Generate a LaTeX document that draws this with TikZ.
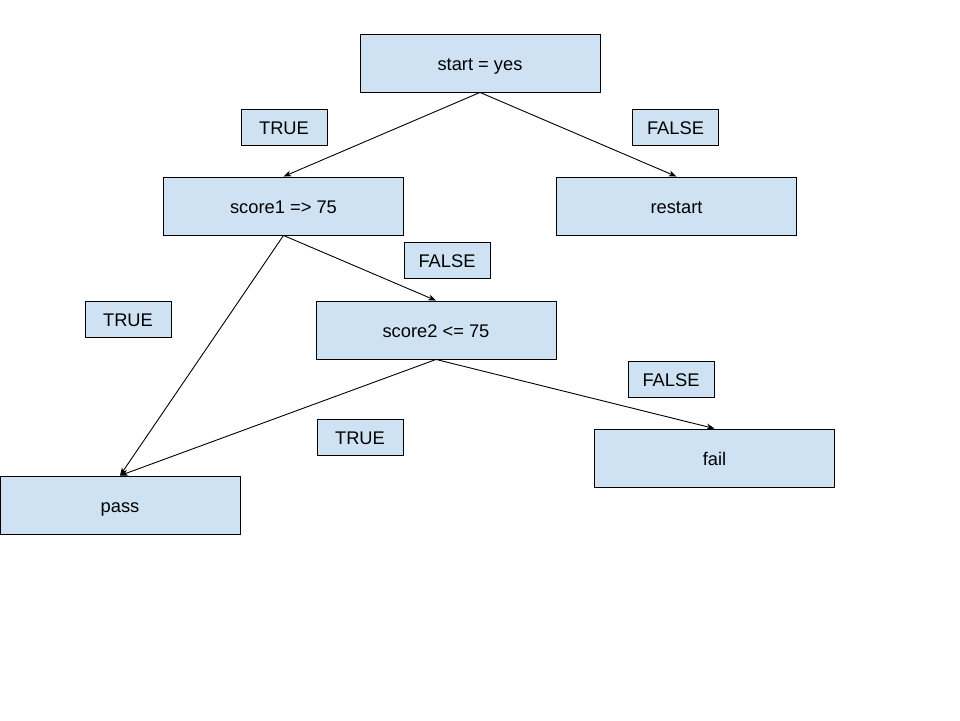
\documentclass[tikz,border=0pt]{standalone}
\usepackage{fontspec}
\setmainfont{Liberation Sans}
\usetikzlibrary{arrows.meta}
\definecolor{boxfill}{HTML}{CFE2F3}
\begin{document}
\begin{tikzpicture}[x=1pt,y=-1pt,
  base/.style={draw=black,fill=boxfill,line width=0.9pt,inner sep=0pt,text height=15.4pt,text depth=0pt,font=\fontsize{18.3}{22}\selectfont},
  box/.style={base,minimum width=240pt,minimum height=58pt},
  lab/.style={base,minimum width=86pt,minimum height=36pt},
  conn/.style={line width=0.9pt,-{Stealth[length=8pt,width=6pt]}}]
\useasboundingbox[fill=white] (0,0) rectangle (960,720);
\node[box] (start) at (480,63) {start = yes};
\node[box] (s1) at (283.5,206) {score1 => 75};
\node[box] (restart) at (676.5,206) {restart};
\node[box] (s2) at (436,330) {score2 <= 75};
\node[box] (fail) at (714.5,458) {fail};
\node[box] (pass) at (120,505) {pass};
\node[lab] (t1) at (284,127) {TRUE};
\node[lab] (f1) at (675.5,127) {FALSE};
\node[lab] (f2) at (447,260) {FALSE};
\node[lab] (t2) at (128,319) {TRUE};
\node[lab] (f3) at (671,379) {FALSE};
\node[lab] (t3) at (360,437) {TRUE};
\draw[conn] (start.south) -- (s1.north);
\draw[conn] (start.south) -- (restart.north);
\draw[conn] (s1.south) -- (pass.north);
\draw[conn] (s1.south) -- (s2.north);
\draw[conn] (s2.south) -- (pass.north);
\draw[conn] (s2.south) -- (fail.north);
\end{tikzpicture}
\end{document}
